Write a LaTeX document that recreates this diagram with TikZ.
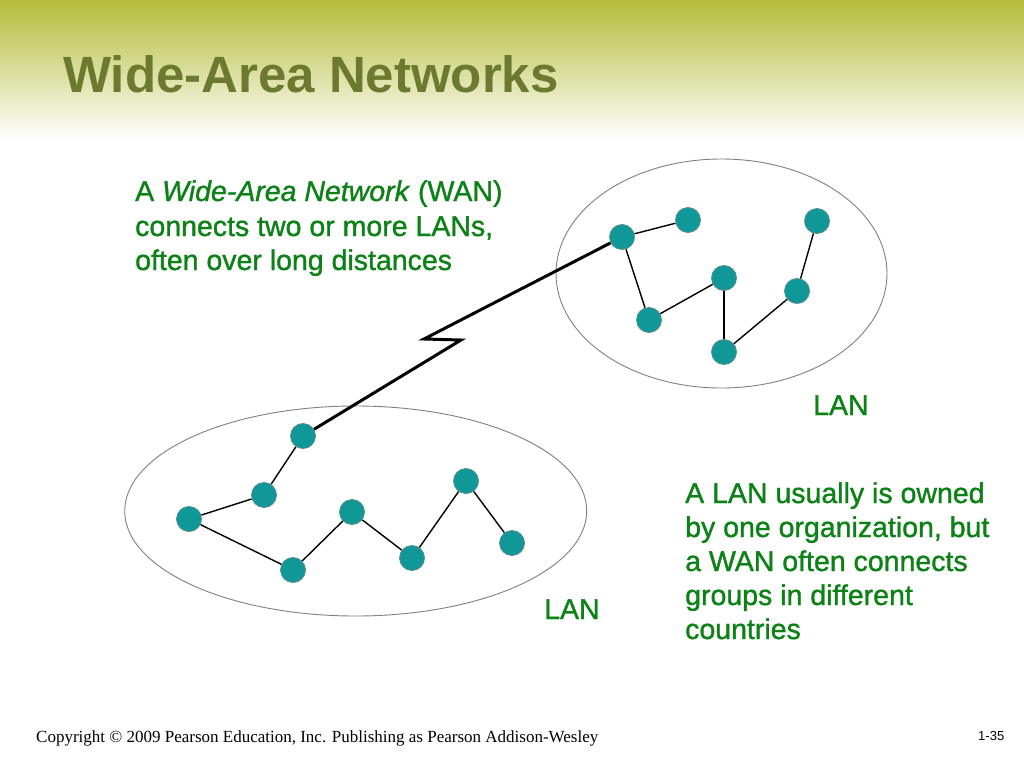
\documentclass[tikz,border=0pt]{standalone}
\usepackage{fontspec}
\setmainfont{Liberation Sans}
\newfontfamily\bodyfont[FakeBold=1.2]{Liberation Sans}
\newfontfamily\footfont{Liberation Serif}
\usetikzlibrary{shapes.geometric}
\definecolor{hdr}{RGB}{180,188,58}
\definecolor{titlecol}{RGB}{107,122,46}
\definecolor{txtgreen}{RGB}{12,130,22}
\definecolor{hostfill}{RGB}{16,152,152}
\definecolor{hostedge}{RGB}{90,140,140}
\definecolor{ringcol}{RGB}{128,128,128}
\begin{document}
\begin{tikzpicture}[x=1pt,y=-1pt,
  host/.style={circle,fill=hostfill,draw=hostedge,line width=0.8pt,minimum size=25pt,inner sep=0pt},
  lanring/.style={ellipse,draw=ringcol,line width=0.9pt,inner sep=0pt},
  lanlink/.style={line width=1.4pt,black},
  wanlink/.style={line width=3pt,black,line join=miter},
  body/.style={anchor=base west,inner sep=0pt,text=txtgreen,font=\bodyfont\fontsize{28.5}{34}\selectfont},
  title/.style={anchor=base west,inner sep=0pt,text=titlecol,font=\fontsize{51}{60}\selectfont\bfseries},
  foot/.style={anchor=base west,inner sep=0pt,text=black}]
\useasboundingbox (0,0) rectangle (1024,768);
\fill[white] (0,0) rectangle (1024,768);
\shade[top color=hdr,bottom color=white] (0,0) rectangle (1024,140);
\node[title] (ttl) at (63,92) {Wide-Area Networks};
% LAN rings
\node[lanring,minimum width=331pt,minimum height=229pt] (ringA) at (721.5,273.5) {};
\node[lanring,minimum width=462pt,minimum height=210pt] (ringB) at (355.7,511) {};
% upper LAN hosts
\node[host] (a1) at (622,237) {};
\node[host] (a2) at (688,220) {};
\node[host] (a3) at (817,221) {};
\node[host] (a4) at (724,278) {};
\node[host] (a5) at (797,291) {};
\node[host] (a6) at (649,320) {};
\node[host] (a7) at (724,352) {};
% lower LAN hosts
\node[host] (b1) at (303,436) {};
\node[host] (b2) at (264,495) {};
\node[host] (b3) at (189,519) {};
\node[host] (b4) at (293,570) {};
\node[host] (b5) at (352,512) {};
\node[host] (b6) at (412,558) {};
\node[host] (b7) at (466,481) {};
\node[host] (b8) at (512,543) {};
% links
\draw[lanlink] (a1) -- (a2);
\draw[lanlink] (a1) -- (a6);
\draw[lanlink] (a6) -- (a4);
\draw[lanlink] (a4) -- (a7);
\draw[lanlink] (a7) -- (a5);
\draw[lanlink] (a5) -- (a3);
\draw[lanlink] (b1) -- (b2);
\draw[lanlink] (b2) -- (b3);
\draw[lanlink] (b3) -- (b4);
\draw[lanlink] (b4) -- (b5);
\draw[lanlink] (b5) -- (b6);
\draw[lanlink] (b6) -- (b7);
\draw[lanlink] (b7) -- (b8);
% WAN link
\coordinate (z1) at (424,339);
\coordinate (z2) at (461,340);
\draw[wanlink] (a1) -- (z1) -- (z2) -- (b1);
% texts
\node[body] (w1) at (135,201) {A \textit{Wide-Area Network} (WAN)};
\node[body] (w2) at (135,236) {connects two or more LANs,};
\node[body] (w3) at (135,270) {often over long distances};
\node[body] (lanA) at (813,415) {LAN};
\node[body] (lanB) at (544,619) {LAN};
\node[body] (r1) at (685,503) {A LAN usually is owned};
\node[body] (r2) at (685,537) {by one organization, but};
\node[body] (r3) at (685,571) {a WAN often connects};
\node[body] (r4) at (685,605) {groups in different};
\node[body] (r5) at (685,639) {countries};
\node[foot,font=\footfont\fontsize{17}{20}\selectfont] (copy) at (36,742) {Copyright \textcopyright{} 2009 Pearson Education, Inc. Publishing as Pearson Addison-Wesley};
\node[foot,font=\fontsize{13}{16}\selectfont] (pg) at (978,740) {1-35};
\end{tikzpicture}
\end{document}
